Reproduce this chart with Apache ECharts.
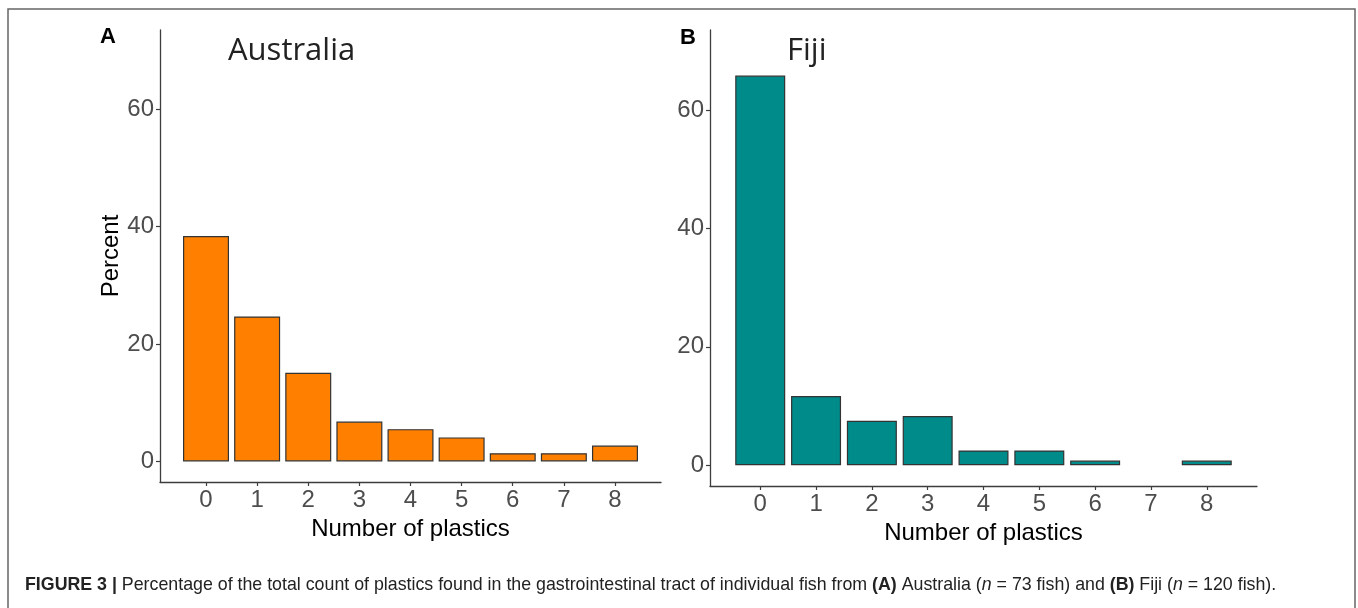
<!DOCTYPE html>
<html>
<head>
<meta charset="utf-8">
<script src="https://cdn.jsdelivr.net/npm/echarts@6/dist/echarts.min.js"></script>
<style>
html,body{margin:0;padding:0;background:#fff;}
#chart{width:1358px;height:608px;}
</style>
</head>
<body>
<div id="chart"></div>
<script>
// ---- data ----
const categories = [0, 1, 2, 3, 4, 5, 6, 7, 8];
const australiaPct = [38.4, 24.7, 15.1, 6.8, 5.5, 4.1, 1.4, 1.4, 2.7];
const fijiPct = [65.8, 11.7, 7.5, 8.3, 2.5, 2.5, 0.8, 0, 0.8];
const yTicks = [0, 20, 40, 60];
const panelTitles = ['Australia', 'Fiji'];
const panelLetters = ['A', 'B'];
const xAxisTitle = 'Number of plastics';
const yAxisTitle = 'Percent';
const caption = '{b|FIGURE 3 |} Percentage of the total count of plastics found in the gastrointestinal tract of individual fish from {b|(A)} Australia ({i|n} = 73 fish) and {b|(B)} Fiji ({i|n} = 120 fish).';

const toPairs = vals => categories.map((c, i) => [c, vals[i] === 0 ? '-' : vals[i]]);

const axisColor = '#3d3d3d';
const tickLabelColor = '#4d4d4d';
const labelFont = '"Liberation Sans", Arial, sans-serif';

function makeX(gridIndex) {
  return {
    type: 'value', gridIndex: gridIndex, min: -0.9, max: 8.9,
    name: xAxisTitle, nameLocation: 'middle', nameGap: 28,
    nameTextStyle: { fontSize: 24, color: '#000', fontFamily: labelFont },
    axisLine: { show: true, onZero: false, lineStyle: { color: axisColor, width: 1.3 } },
    axisTick: { show: true, length: 4, customValues: categories, lineStyle: { color: axisColor, width: 1.2 } },
    axisLabel: { customValues: categories, fontSize: 24, color: tickLabelColor, margin: 6, fontFamily: labelFont },
    splitLine: { show: false }
  };
}
function makeY(gridIndex, withName) {
  return {
    type: 'value', gridIndex: gridIndex, min: -3.5, max: 73.5,
    name: withName ? yAxisTitle : '', nameLocation: 'middle', nameGap: 35,
    nameTextStyle: { fontSize: 24, color: '#000', fontFamily: labelFont },
    axisLine: { show: true, onZero: false, lineStyle: { color: axisColor, width: 1.3 } },
    axisTick: { show: true, length: 4, customValues: yTicks, lineStyle: { color: axisColor, width: 1.2 } },
    axisLabel: { customValues: yTicks, fontSize: 24, color: tickLabelColor, margin: 6, fontFamily: labelFont },
    splitLine: { show: false }
  };
}

const chart = echarts.init(document.getElementById('chart'), null, { renderer: 'canvas' });
chart.setOption({
  animation: false,
  backgroundColor: '#fff',
  grid: [
    { left: 160, top: 30, width: 501, height: 452 },
    { left: 710, top: 30, width: 547, height: 456 }
  ],
  xAxis: [makeX(0), makeX(1)],
  yAxis: [makeY(0, true), makeY(1, false)],
  series: [
    {
      type: 'bar', xAxisIndex: 0, yAxisIndex: 0, barWidth: 46,
      data: toPairs(australiaPct),
      itemStyle: { color: '#ff8000', borderColor: '#333', borderWidth: 1.2 }
    },
    {
      type: 'bar', xAxisIndex: 1, yAxisIndex: 1, barWidth: 50,
      data: toPairs(fijiPct),
      itemStyle: { color: '#008b8b', borderColor: '#333', borderWidth: 1.2 }
    }
  ],
  graphic: [
    { type: 'rect', silent: true, shape: { x: 8, y: 9, width: 1347, height: 700 },
      style: { fill: 'none', stroke: '#666', lineWidth: 1.5 } },
    { type: 'text', silent: true, style: { x: 100, y: 37, text: panelLetters[0], verticalAlign: 'middle',
      font: 'bold 22px "Liberation Sans", Arial, sans-serif', fill: '#000' } },
    { type: 'text', silent: true, style: { x: 680, y: 38, text: panelLetters[1], verticalAlign: 'middle',
      font: 'bold 22px "Liberation Sans", Arial, sans-serif', fill: '#000' } },
    { type: 'text', silent: true, style: { x: 228, y: 51, text: panelTitles[0], verticalAlign: 'middle',
      font: '31px "Open Sans", sans-serif', fill: '#222' } },
    { type: 'text', silent: true, style: { x: 787, y: 51, text: panelTitles[1], verticalAlign: 'middle',
      font: '31px "Open Sans", sans-serif', fill: '#222' } },
    { type: 'text', silent: true, style: { x: 25, y: 585, text: caption, verticalAlign: 'middle',
      font: '17.8px "Liberation Sans", Arial, sans-serif', fill: '#222',
      rich: {
        b: { fontWeight: 'bold', fontSize: 17.8, fontFamily: '"Liberation Sans", Arial, sans-serif', fill: '#222' },
        i: { fontStyle: 'italic', fontSize: 17.8, fontFamily: '"Liberation Sans", Arial, sans-serif', fill: '#222' }
      } } }
  ]
});
</script>
</body>
</html>
